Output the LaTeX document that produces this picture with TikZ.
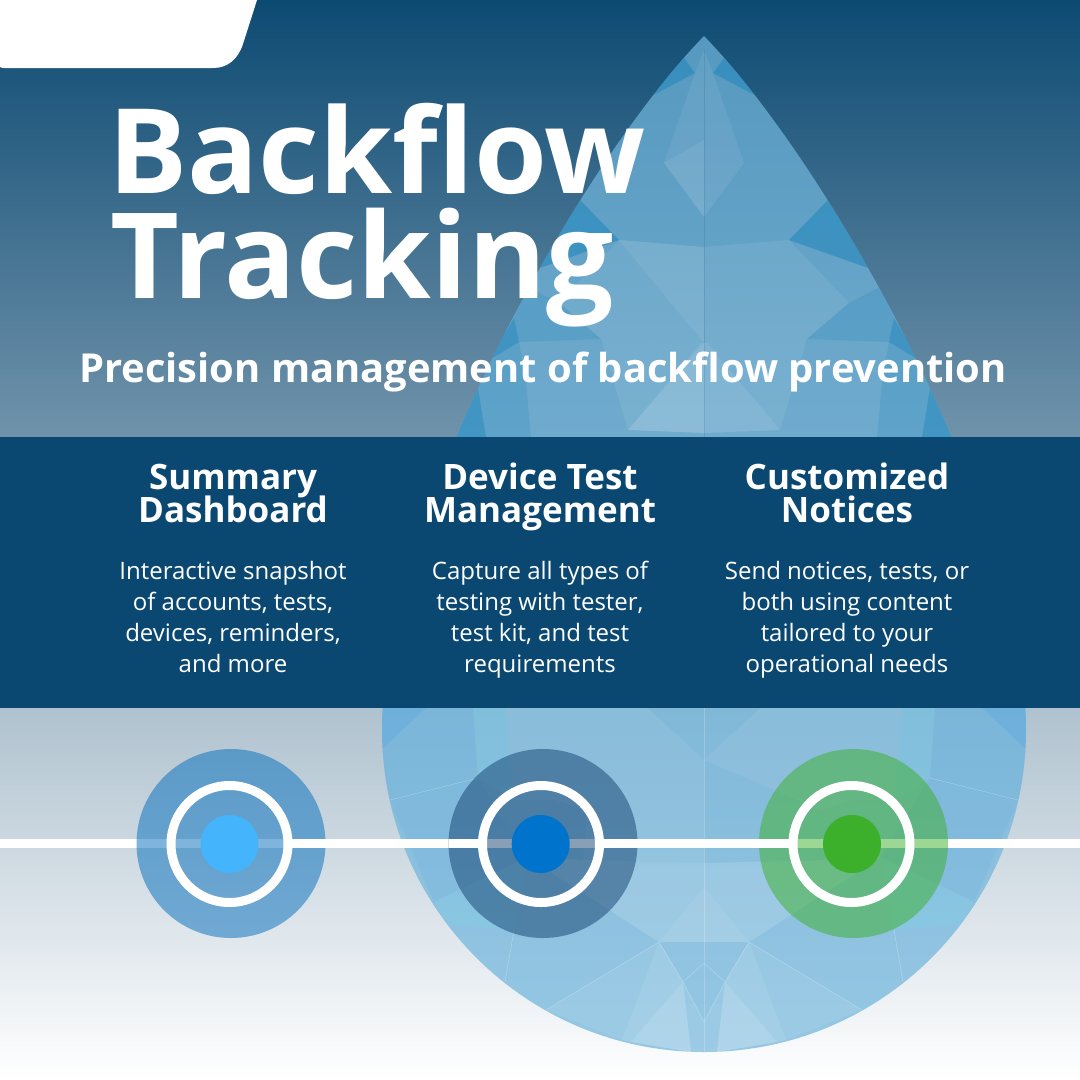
\documentclass[tikz,border=0pt]{standalone}
\usepackage{fontspec}
\setmainfont{Open Sans}
\usetikzlibrary{calc}
\definecolor{bandblue}{HTML}{0A4872}
\definecolor{skytop}{HTML}{0D4A72}
\definecolor{skylow}{HTML}{7093AB}
\definecolor{floortop}{HTML}{AFC2CF}
\definecolor{dropblue}{HTML}{70B5DC}
\definecolor{deepfacet}{HTML}{2488BC}
\definecolor{cyanfacet}{HTML}{80D0E8}
\definecolor{sidefacet}{HTML}{5AA8E0}
\definecolor{ringone}{HTML}{006CBC}
\definecolor{ringtwo}{HTML}{12416F}
\definecolor{ringthree}{HTML}{3CB02A}
\definecolor{dotone}{HTML}{44B4FC}
\definecolor{dottwo}{HTML}{0074CC}
\def\tightlines{\lineskiplimit=-50pt\relax\strut}
\tikzset{
	x=1pt, y=-1pt,
	facetA/.style={fill=white, fill opacity=.07},
	facetB/.style={fill=white, fill opacity=.14},
	facetC/.style={fill=white, fill opacity=.24},
	facetD/.style={fill=deepfacet, fill opacity=.6},
	facetE/.style={fill=deepfacet, fill opacity=.22},
	facetF/.style={fill=cyanfacet, fill opacity=.3},
	facetG/.style={fill=sidefacet, fill opacity=.45},
	facetH/.style={fill=sidefacet, fill opacity=.15},
	seam/.style={draw=white, draw opacity=.25, line width=.6pt},
	halo/.style={fill opacity=.5, draw=none},
	whitering/.style={draw=white, line width=9pt},
	bar/.style={fill=white, draw=none},
	titleline/.style={text=white, inner sep=0pt, anchor=base west, font=\fontsize{118}{118}\selectfont\bfseries},
	headline/.style={text=white, font=\fontsize{35}{33}\selectfont\bfseries, align=center, inner sep=0pt, execute at begin node=\tightlines, execute at end node=\strut},
	blurb/.style={text=white, font=\fontsize{24}{31}\selectfont, align=center, inner sep=0pt, execute at begin node=\tightlines, execute at end node=\strut},
}
\def\dropshape{(704,36) .. controls (834,170) and (1026,520) .. (1026,730) arc (0:180:322) .. controls (382,520) and (574,170) .. (704,36) -- cycle}
\begin{document}
\begin{tikzpicture}
	\useasboundingbox (0,0) rectangle (1080,1080);

	%%%%% BACKGROUND %%%%%
	\shade[top color=skytop, bottom color=skylow] (0,0) rectangle (1080,437);
	\shade[top color=floortop, bottom color=white] (0,708) rectangle (1080,1080);

	%%%%% DROP %%%%%
	\fill[dropblue, fill opacity=.72] \dropshape;
	\begin{scope}
		\clip \dropshape;
		\foreach \sd in {1,-1} {
			\begin{scope}[shift={(704,0)}, xscale=\sd]
				% upper part
				\fill[facetD] (20,58) -- (60,100) -- (9,73) -- cycle;
				\fill[facetA] (0,50) -- (9,73) -- (40,163) -- (0,140) -- cycle;
				\fill[facetA] (0,140) -- (40,163) -- (0,217) -- cycle;
				\fill[facetD] (124,200) -- (170,270) -- (85,240) -- cycle;
				\fill[facetA] (0,247) -- (85,240) -- (3,343) -- (0,343) -- cycle;
				\fill[facetA] (85,240) -- (103,339) -- (3,343) -- cycle;
				\fill[facetA] (85,240) -- (145,303) -- (103,339) -- cycle;
				\fill[facetE] (145,303) -- (176,287) -- (190,318) -- (185,342) -- (103,339) -- cycle;
				\fill[facetD] (190,318) -- (215,360) -- (185,342) -- cycle;
				\fill[facetE] (185,342) -- (215,360) -- (226,388) -- (178,383) -- cycle;
				\fill[facetD] (226,388) -- (260,437) -- (218,437) -- cycle;
				\fill[facetE] (178,383) -- (226,388) -- (218,437) -- (173,437) -- cycle;
				\fill[facetA] (3,343) -- (103,339) -- (88,390) -- (76,430) -- cycle;
				\fill[facetB] (3,343) -- (76,430) -- (0,433) -- (0,343) -- cycle;
				% lower part
				\fill[facetG] (278,708) -- (321,748) -- (340,708) -- cycle;
				\fill[facetH] (231,708) -- (278,708) -- (321,748) -- (330,800) -- (314,800) -- (226,778) -- cycle;
				\fill[facetF] (199,708) -- (231,708) -- (226,778) -- (190,800) -- cycle;
				\fill[facetA] (121,708) -- (199,708) -- (190,800) -- (149,800) -- cycle;
				\fill[facetA] (56,708) -- (121,708) -- (149,800) -- (117,810) -- (0,760) -- cycle;
				\fill[facetH] (177,857) -- (226,778) -- (314,800) -- (270,902) -- cycle;
				\fill[facetF] (177,857) -- (270,902) -- (255,925) -- (190,930) -- cycle;
				\fill[facetB] (0,863) -- (121,860) -- (177,857) -- (45,942) -- (0,942) -- cycle;
				\fill[facetA] (0,887) -- (45,942) -- (0,942) -- cycle;
				\fill[facetA] (45,942) -- (82,1040) -- (158,1010) -- cycle;
				\fill[facetB] (45,942) -- (82,1040) -- (73,1042) -- (21,982) -- cycle;
				\fill[facetC] (21,982) -- (73,1042) -- (13,1052) -- cycle;
				\fill[facetA] (21,982) -- (13,1052) -- (0,1052) -- (0,1022) -- cycle;
				\draw[seam] (45,942) -- (158,1010);
				\draw[seam] (190,930) -- (199,982);
				\draw[seam] (226,778) -- (314,800);
				\draw[seam] (45,942) -- (21,982) -- (0,963);
				\draw[seam] (21,982) -- (0,1022);
			\end{scope}
		}
		% the left side is a little paler
		\fill[facetA] (704,140) -- (664,163) -- (704,217) -- cycle;
		\fill[facetA] (704,247) -- (619,240) -- (704,343) -- cycle;
		\fill[facetA] (704,343) -- (628,430) -- (704,433) -- cycle;
		\fill[facetA] (704,760) -- (587,810) -- (583,860) -- (704,863) -- cycle;
		\draw[white, draw opacity=.2, line width=.6pt] (704,708) -- (704,1052);
		\draw[skytop, draw opacity=.15, line width=.6pt] (704,50) -- (704,437);
	\end{scope}

	%%%%% BAND AND TAB %%%%%
	\fill[bandblue] (0,437) rectangle (1080,708);
	\fill[white] (0,0) -- (257,0) -- (243,44) .. controls (238,59) and (228,68) .. (213,68) -- (4,68) .. controls (2,68) and (1,67.5) .. (0,67) -- cycle;

	%%%%% TEXT %%%%%
	\node[titleline] (titleone) at (108,193) {Backflow};
	\node[titleline, font=\fontsize{119}{119}\selectfont\bfseries] (titletwo) at (110,298) {Tracking};
	\node[text=white, inner sep=0pt, anchor=base, font=\fontsize{39.9}{40}\selectfont\bfseries] (subtitle) at (543,382) {Precision management of backflow prevention};

	\node[headline] (headone) at (233,498) {Summary\\Dashboard};
	\node[headline] (headtwo) at (540,498) {Device Test\\Management};
	\node[headline] (headthree) at (847,498) {Customized\\Notices};

	\node[blurb] (textone) at (233,621.5) {Interactive snapshot\\of accounts, tests,\\devices, reminders,\\and more};
	\node[blurb] (texttwo) at (540,621.5) {Capture all types of\\testing with tester,\\test kit, and test\\requirements};
	\node[blurb] (textthree) at (847,621.5) {Send notices, tests, or\\both using content\\tailored to your\\operational needs};

	%%%%% TIMELINE %%%%%
	\fill[bar] (0,838.7) rectangle (1080,848.3);

	\fill[ringone, halo] (231,843.5) circle (94.5);
	\fill[ringtwo, halo] (543,843.5) circle (94.5);
	\fill[ringthree, halo] (853.5,843.5) circle (94.5);

	\fill[bar] (292,838.7) rectangle (326,848.3);
	\fill[bar] (449,838.7) rectangle (480,848.3);
	\fill[bar] (603,838.7) rectangle (638,848.3);
	\fill[bar] (759,838.7) rectangle (790,848.3);

	\draw[whitering] (229.5,844) circle (58.5);
	\draw[whitering] (541,844) circle (58.5);
	\draw[whitering] (851.5,844) circle (58.5);

	\fill[dotone] (229.5,844) circle (29);
	\fill[dottwo] (540.7,844) circle (29);
	\fill[ringthree] (852,844) circle (29);
\end{tikzpicture}
\end{document}
